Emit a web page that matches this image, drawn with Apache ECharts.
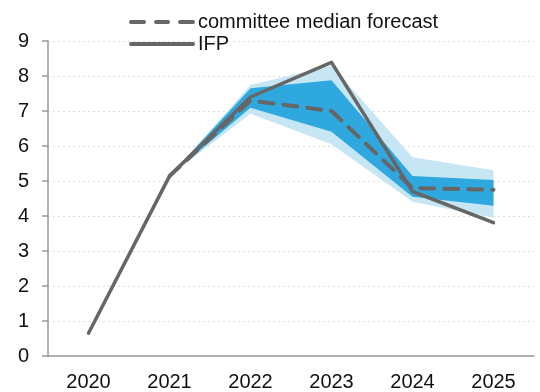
<!DOCTYPE html>
<html><head><meta charset="utf-8">
<script src="https://cdn.jsdelivr.net/npm/echarts@6/dist/echarts.min.js"></script>
<style>html,body{margin:0;padding:0;background:#fff}#c{width:540px;height:392px}</style>
</head><body><div id="c"></div>
<script>
const years = ['2020','2021','2022','2023','2024','2025'];
const ifp = [0.65, 5.14, 7.40, 8.39, 4.70, 3.81];
const median = ['-', 5.14, 7.30, 7.00, 4.80, 4.75];
const outerLow = ['-', 5.14, 6.92, 6.05, 4.41, 3.95];
const outerHigh = ['-', 5.14, 7.74, 8.30, 5.68, 5.31];
const innerLow = ['-', 5.14, 7.09, 6.41, 4.55, 4.29];
const innerHigh = ['-', 5.14, 7.65, 7.88, 5.14, 5.03];
const yTicks = [0,1,2,3,4,5,6,7,8,9];

const diff = (hi, lo) => hi.map((v,i)=> v==='-' ? '-' : +(v - lo[i]).toFixed(3));
const font = 'Liberation Sans, Arial, sans-serif';

const chart = echarts.init(document.getElementById('c'), null, {renderer:'canvas'});
chart.setOption({
  animation: false,
  grid: {left: 48, right: 6, top: 41, bottom: 32, containLabel: false},
  legend: {
    left: 124, top: 7, orient: 'vertical', itemGap: 2, itemWidth: 66, itemHeight: 5,
    data: [
      {name: 'committee median forecast', icon: 'path://M2,0H15A2,2 0 0 1 15,4H2A2,2 0 0 1 2,0Z M27,0H39A2,2 0 0 1 39,4H27A2,2 0 0 1 27,0Z M51,0H64A2,2 0 0 1 64,4H51A2,2 0 0 1 51,0Z', itemStyle: {color: '#666'}},
      {name: 'IFP', icon: 'path://M2,0H64A2,2 0 0 1 64,4H2A2,2 0 0 1 2,0Z', itemStyle: {color: '#666'}}
    ],
    textStyle: {fontFamily: font, fontSize: 20, color: '#111', padding: [0,0,0,-2]}
  },
  xAxis: {
    type: 'category', data: years, boundaryGap: true,
    axisLine: {lineStyle: {color: '#999', width: 1.5}},
    axisTick: {show: false},
    axisLabel: {fontFamily: font, fontSize: 20, color: '#111', margin: 16}
  },
  yAxis: {
    type: 'value', min: yTicks[0], max: yTicks[yTicks.length-1], interval: 1,
    axisLine: {show: true, lineStyle: {color: '#999', width: 1.5}},
    axisTick: {show: true, length: 6, lineStyle: {color: '#999', width: 1.5}},
    axisLabel: {fontFamily: font, fontSize: 20, color: '#111', margin: 19},
    splitLine: {show: true, lineStyle: {color: '#ddd', type: [2,3], width: 1}}
  },
  series: [
    {name: 'oLow', type: 'line', stack: 'outer', data: outerLow, symbol: 'none', lineStyle: {opacity: 0}, silent: true},
    {name: 'oBand', type: 'line', stack: 'outer', data: diff(outerHigh, outerLow), symbol: 'none', lineStyle: {opacity: 0}, areaStyle: {color: '#c6e6f4', opacity: 1}, silent: true},
    {name: 'iLow', type: 'line', stack: 'inner', data: innerLow, symbol: 'none', lineStyle: {opacity: 0}, silent: true},
    {name: 'iBand', type: 'line', stack: 'inner', data: diff(innerHigh, innerLow), symbol: 'none', lineStyle: {opacity: 0}, areaStyle: {color: '#2ea8df', opacity: 1}, silent: true},
    {name: 'committee median forecast', type: 'line', data: median, symbol: 'none', z: 4,
      itemStyle: {color: '#666'},
      lineStyle: {color: '#666', width: 4, type: [14, 10], cap: 'round', join: 'round'}},
    {name: 'IFP', type: 'line', data: ifp, symbol: 'none', z: 5,
      itemStyle: {color: '#666'},
      lineStyle: {color: '#666', width: 3.5, cap: 'round', join: 'round'}}
  ]
});
</script></body></html>
